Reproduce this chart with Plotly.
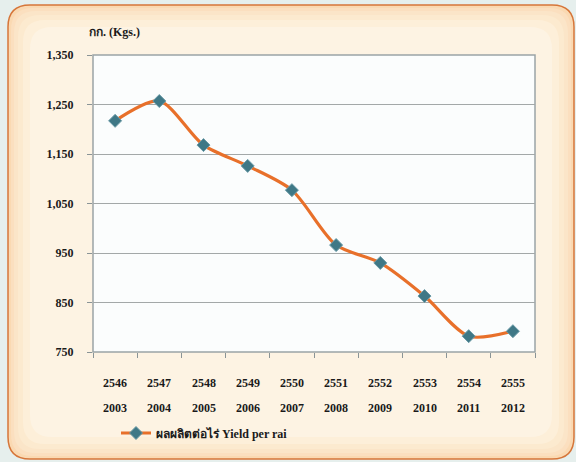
import plotly.graph_objects as go

# data
years_be = ['2546', '2547', '2548', '2549', '2550', '2551', '2552', '2553', '2554', '2555']
years_ad = ['2003', '2004', '2005', '2006', '2007', '2008', '2009', '2010', '2011', '2012']
yield_per_rai = [1217, 1257, 1168, 1126, 1077, 966, 930, 863, 782, 792]
y_ticks = [750, 850, 950, 1050, 1150, 1250, 1350]

W, H = 576, 462
L, R, T, B = 93, 41, 55, 110
pw, ph = W - L - R, H - T - B


def px(x):
    return (x - L) / pw


def py(y):
    return (H - B - y) / ph


def rounded(x0, y0, x1, y1, r):
    # rounded rect path in paper coords, from pixel positions
    rx, ry = r / pw, r / ph
    a, b, c, d = px(x0), py(y1), px(x1), py(y0)
    return (f"M {a+rx},{b} L {c-rx},{b} Q {c},{b} {c},{b+ry} L {c},{d-ry} "
            f"Q {c},{d} {c-rx},{d} L {a+rx},{d} Q {a},{d} {a},{d-ry} "
            f"L {a},{b+ry} Q {a},{b} {a+rx},{b} Z")


serif = dict(family='Liberation Serif, Times New Roman, serif', size=12, color='#1a1a1a')

fig = go.Figure()

fig.add_trace(
    go.Scatter(
        x=years_be,
        y=yield_per_rai,
        mode='lines+markers',
        line=dict(color='#e8702a', width=3.2, shape='spline', smoothing=0.8),
        marker=dict(symbol='diamond', size=10, color='#3f7886',
                    line=dict(color='#6a9aa6', width=1)),
        name='<b>ผลผลิตต่อไร่ Yield per rai</b>',
    )
)

# outer rounded panel, a few layers to fake the soft gradient
shapes = [
    dict(type='path', xref='paper', yref='paper', layer='below',
         path=rounded(8, 5, 574, 459, 22),
         fillcolor='#fad9b2', line=dict(color='#d6763a', width=1.5)),
]
for inset, col in [(3, '#fbdfbf'), (6, '#fbe5c8'), (10, '#fceacf'), (15, '#fdefd9'), (22, '#fdf3e3')]:
    shapes.append(dict(type='path', xref='paper', yref='paper', layer='below',
                       path=rounded(8 + inset, 5 + inset, 574 - inset, 459 - inset, 22),
                       fillcolor=col, line=dict(width=0)))
# plot frame
shapes.append(dict(type='rect', xref='paper', yref='paper', layer='below',
                   x0=0, x1=1, y0=0, y1=1, fillcolor='#fbfdfd',
                   line=dict(color='#9aa4a6', width=1.5)))

annotations = [
    dict(text='<b>กก. (Kgs.)</b>', x=px(87), y=py(32), xref='paper', yref='paper',
         xanchor='left', yanchor='middle', showarrow=False, font=serif),
]
for i, (be, ad) in enumerate(zip(years_be, years_ad)):
    annotations.append(dict(text=f'<b>{be}</b>', x=i, y=py(383), xref='x', yref='paper',
                            showarrow=False, font=serif, yanchor='middle'))
    annotations.append(dict(text=f'<b>{ad}</b>', x=i, y=py(408), xref='x', yref='paper',
                            showarrow=False, font=serif, yanchor='middle'))

fig.update_layout(
    width=W, height=H,
    margin=dict(l=L, r=R, t=T, b=B),
    paper_bgcolor='#e6efed',
    plot_bgcolor='rgba(0,0,0,0)',
    shapes=shapes,
    annotations=annotations,
    showlegend=True,
    legend=dict(x=px(116), y=py(433), xanchor='left', yanchor='middle',
                orientation='h', bgcolor='rgba(0,0,0,0)',
                font=dict(family='Liberation Serif, Noto Sans, serif', size=12, color='#1a1a1a')),
)

fig.update_xaxes(
    type='category', showticklabels=False, showgrid=False,
    ticks='outside', tickson='boundaries', ticklen=5, tickcolor='#8a9496',
    showline=False, range=[-0.5, 9.5],
)
fig.update_yaxes(
    range=[750, 1350], tickvals=y_ticks,
    ticktext=[f'<b>{v:,}</b>' for v in y_ticks],
    tickfont=serif, ticks='outside', ticklen=5, tickcolor='#8a9496',
    showgrid=True, gridcolor='#a3a8a8', gridwidth=1,
    showline=False, zeroline=False, ticklabelstandoff=11,
)

# drop the default body margin so the figure fills the window
fig.write_html('out.html', config={'displayModeBar': False},
               post_script="document.body.style.margin='0';")
